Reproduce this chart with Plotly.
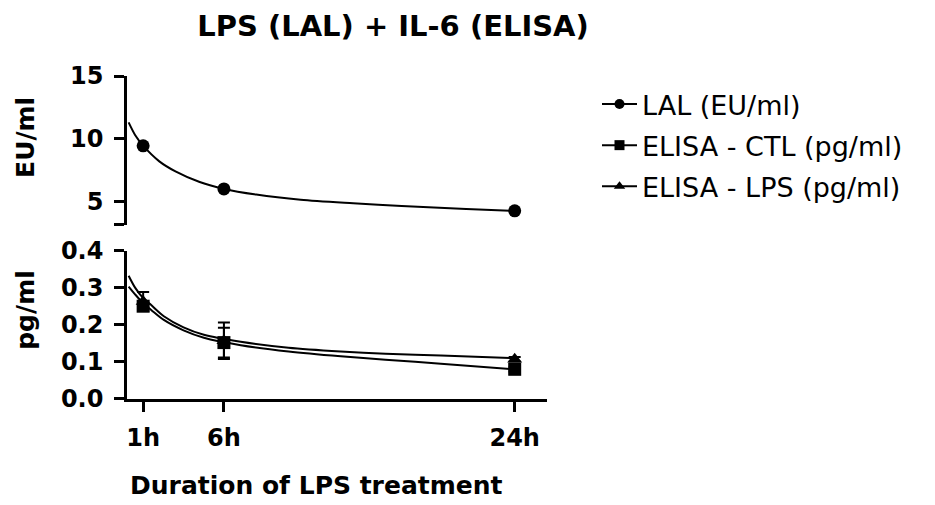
import plotly.graph_objects as go

# ---- data ----
time_h = [1, 6, 24]
tick_labels = ["1h", "6h", "24h"]

lal_mean = [9.44, 6.0, 4.26]
ctl_mean = [0.250, 0.152, 0.080]
ctl_err = [0.012, 0.040, 0.006]
lps_mean = [0.263, 0.157, 0.107]
lps_err = [0.025, 0.049, 0.006]

# fitted curves
lal_fit_x = [0.1, 0.5, 1, 2, 3, 4.5, 6, 8, 10.75, 14, 17, 21, 24]
lal_fit_y = [11.30, 10.30, 9.45, 8.20, 7.40, 6.55, 6.00, 5.55, 5.14, 4.86, 4.64, 4.40, 4.26]
lps_fit_x = [0.1, 0.5, 1, 1.5, 2.28, 3.5, 4.76, 7.04, 10, 13.23, 16, 19.43, 24]
lps_fit_y = [0.332, 0.300, 0.272, 0.253, 0.223, 0.193, 0.173, 0.154, 0.138, 0.128, 0.122, 0.1175, 0.110]
ctl_fit_x = [0.1, 0.5, 1, 1.5, 2.28, 3.5, 4.76, 7.04, 10, 13.23, 16, 19.43, 24]
ctl_fit_y = [0.303, 0.282, 0.258, 0.240, 0.213, 0.185, 0.165, 0.145, 0.128, 0.115, 0.106, 0.095, 0.080]

FONT = "DejaVu Sans"
BLACK = "#000000"
OFF = 8  # page offset of the figure in the browser

fig = go.Figure()

line_style = dict(color=BLACK, width=2, shape="spline", smoothing=0.8)

# top panel
fig.add_trace(go.Scatter(x=lal_fit_x, y=lal_fit_y, mode="lines", line=line_style,
                         xaxis="x2", yaxis="y2", showlegend=False, hoverinfo="skip"))
fig.add_trace(go.Scatter(x=time_h, y=lal_mean, mode="markers",
                         marker=dict(symbol="circle", size=13, color=BLACK),
                         xaxis="x2", yaxis="y2", showlegend=False, cliponaxis=False))

# bottom panel
fig.add_trace(go.Scatter(x=lps_fit_x, y=lps_fit_y, mode="lines", line=line_style,
                         xaxis="x", yaxis="y", showlegend=False, hoverinfo="skip"))
fig.add_trace(go.Scatter(x=ctl_fit_x, y=ctl_fit_y, mode="lines", line=line_style,
                         xaxis="x", yaxis="y", showlegend=False, hoverinfo="skip"))
fig.add_trace(go.Scatter(x=time_h, y=lps_mean, mode="markers",
                         marker=dict(symbol="triangle-up", size=13, color=BLACK),
                         error_y=dict(type="data", array=lps_err, color=BLACK, thickness=2, width=6),
                         xaxis="x", yaxis="y", showlegend=False, cliponaxis=False))
fig.add_trace(go.Scatter(x=time_h, y=ctl_mean, mode="markers",
                         marker=dict(symbol="square", size=13, color=BLACK),
                         error_y=dict(type="data", array=ctl_err, color=BLACK, thickness=2, width=6),
                         xaxis="x", yaxis="y", showlegend=False, cliponaxis=False))

# legend entries
legend_items = [("LAL (EU/ml)", "circle"),
                ("ELISA - CTL (pg/ml)", "square"),
                ("ELISA - LPS (pg/ml)", "triangle-up")]
for i, (name, sym) in enumerate(legend_items):
    fig.add_trace(go.Scatter(x=[None], y=[None], mode="lines+markers", name=name,
                             legendgroup=f"g{i}",
                             line=dict(color=BLACK, width=2),
                             marker=dict(symbol=sym, size=10, color=BLACK),
                             xaxis="x", yaxis="y"))

# reference pixel geometry (screen coords)
PL, PR, PT, PB = 127, 547, 76, 399.3
L = PL - OFF
R = 935 - (PR - OFF)
T = PT - OFF
B = 505 - (PB - OFF)
H = 505 - T - B
W = 935 - L - R

def py(pix):
    return (PB - pix) / H

def px(pix):
    return (pix - PL) / W

axis_common = dict(showline=True, linecolor=BLACK, linewidth=2.5, ticks="outside",
                   ticklen=10, tickwidth=2.5, tickcolor=BLACK, showgrid=False,
                   zeroline=False, tickfont=dict(family=FONT, size=24, color=BLACK, weight="bold"))

fig.update_layout(
    width=935, height=505,
    margin=dict(l=L, r=R, t=T, b=B),
    paper_bgcolor="white", plot_bgcolor="white",
    title=dict(text="<b>LPS (LAL) + IL-6 (ELISA)</b>", x=(393 - OFF) / 935, xanchor="center",
               y=1 - (26 - OFF) / 505, yanchor="middle",
               font=dict(family=FONT, size=29, color=BLACK)),
    xaxis=dict(domain=[0, 1], range=[0, 26], tickvals=time_h, ticktext=tick_labels,
               anchor="y", ticklabelstandoff=5, **axis_common),
    xaxis2=dict(domain=[0, 1], range=[0, 26], matches="x", anchor="y2", visible=False),
    yaxis=dict(domain=[0, py(250.7)], range=[0, 0.4], tickvals=[0, 0.1, 0.2, 0.3, 0.4],
               tickformat=".1f", anchor="x", ticklabelstandoff=6, **axis_common),
    yaxis2=dict(domain=[py(225), 1], range=[3.14, 15], tickvals=[3.14, 5, 10, 15],
                ticktext=["", "5", "10", "15"], anchor="x2", ticklabelstandoff=6,
                **axis_common),
    legend=dict(x=px(597), y=py(80), xanchor="left", yanchor="top",
                font=dict(family=FONT, size=27, color=BLACK),
                itemwidth=35, tracegroupgap=3, bgcolor="rgba(0,0,0,0)"),
    showlegend=True,
    annotations=[
        dict(text="<b>EU/ml</b>", x=px(26), y=py(138), xref="paper", yref="paper",
             textangle=-90, showarrow=False, xanchor="center", yanchor="middle",
             font=dict(family=FONT, size=25, color=BLACK)),
        dict(text="<b>pg/ml</b>", x=px(26), y=py(310), xref="paper", yref="paper",
             textangle=-90, showarrow=False, xanchor="center", yanchor="middle",
             font=dict(family=FONT, size=25, color=BLACK)),
        dict(text="<b>Duration of LPS treatment</b>", x=px(316.5), y=py(486),
             xref="paper", yref="paper", showarrow=False, xanchor="center", yanchor="middle",
             font=dict(family=FONT, size=25, color=BLACK)),
    ],
)

fig.write_html("out.html")
